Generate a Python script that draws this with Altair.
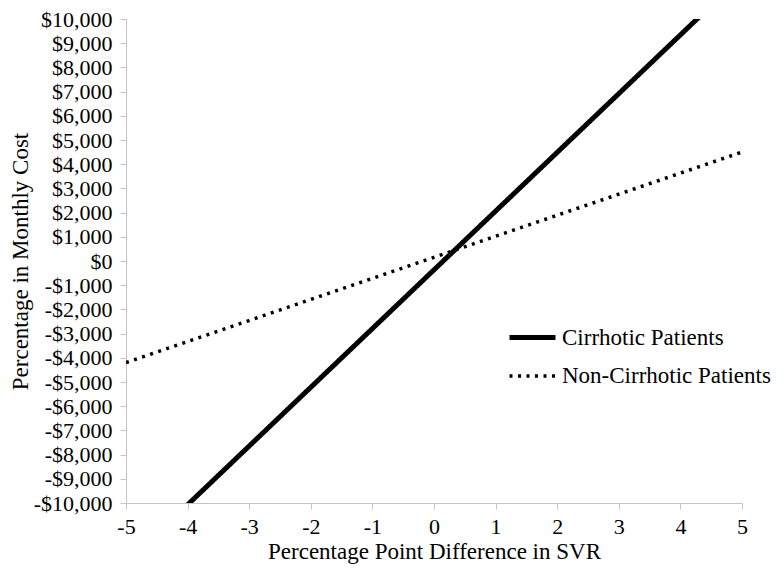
import altair as alt
import pandas as pd

x_vals = [-5, -4, -3, -2, -1, 0, 1, 2, 3, 4, 5]
cirrhotic = [-12500, -10073, -7646, -5219, -2792, -365, 2062, 4489, 6916, 9343, 11770]
non_cirrhotic = [-4200, -3330, -2460, -1590, -720, 150, 1020, 1890, 2760, 3630, 4500]
series_names = ["Cirrhotic Patients", "Non-Cirrhotic Patients"]
y_ticks = list(range(-10000, 10001, 1000))
x_ticks = list(range(-5, 6))

rows = []
for name, vals in zip(series_names, [cirrhotic, non_cirrhotic]):
    for xv, yv in zip(x_vals, vals):
        rows.append({"x": xv, "y": yv, "series": name})
df = pd.DataFrame(rows)

FONT = "Liberation Serif"
AXIS_GRAY = "#c4c4c4"

chart = alt.Chart(df).mark_line(clip=True, color="black").encode(
    x=alt.X("x:Q", scale=alt.Scale(domain=[-5, 5], nice=False),
            axis=alt.Axis(values=x_ticks, title="Percentage Point Difference in SVR",
                          grid=False, domainColor=AXIS_GRAY, tickColor=AXIS_GRAY,
                          tickSize=6, labelPadding=7, labelFont=FONT, labelFontSize=22,
                          labelColor="black", titleFont=FONT, titleFontSize=23,
                          titleFontWeight="normal", titleColor="black",
                          labelExpr="'' + datum.value",
                          titleY=55, titleBaseline="alphabetic", labelFlush=False)),
    y=alt.Y("y:Q", scale=alt.Scale(domain=[-10000, 10000], nice=False),
            axis=alt.Axis(values=y_ticks, title="Percentage in Monthly Cost",
                          grid=False, domainColor=AXIS_GRAY, tickColor=AXIS_GRAY,
                          tickSize=6, labelPadding=8, labelFont=FONT, labelFontSize=22,
                          labelColor="black", titleFont=FONT, titleFontSize=23,
                          titleFontWeight="normal", titleColor="black",
                          labelExpr="datum.value < 0 ? '-$' + format(-datum.value, ',') : '$' + format(datum.value, ',')",
                          titleX=-99, titleY=242, titleAngle=-90, titleAlign="center",
                          titleBaseline="alphabetic", labelFlush=False)),
    strokeDash=alt.StrokeDash("series:N",
                              scale=alt.Scale(domain=series_names, range=[[1, 0], [3, 5.5]]),
                              legend=alt.Legend(title=None)),
    strokeWidth=alt.StrokeWidth("series:N",
                                scale=alt.Scale(domain=series_names, range=[5, 3.5]),
                                legend=alt.Legend(title=None)),
).properties(
    width=616, height=484,
    autosize=alt.AutoSizeParams(type="none"),
    padding={"left": 118, "top": 11, "right": 34, "bottom": 61},
).configure_view(stroke=None).configure_legend(
    orient="none", legendX=381, legendY=293,
    symbolType="stroke", symbolSize=2116, symbolStrokeColor="black",
    labelFont=FONT, labelFontSize=23, labelColor="black", labelOffset=4,
    rowPadding=1, labelLimit=400,
)

chart.save("out.html", embed_options={"renderer": "svg", "actions": False})
